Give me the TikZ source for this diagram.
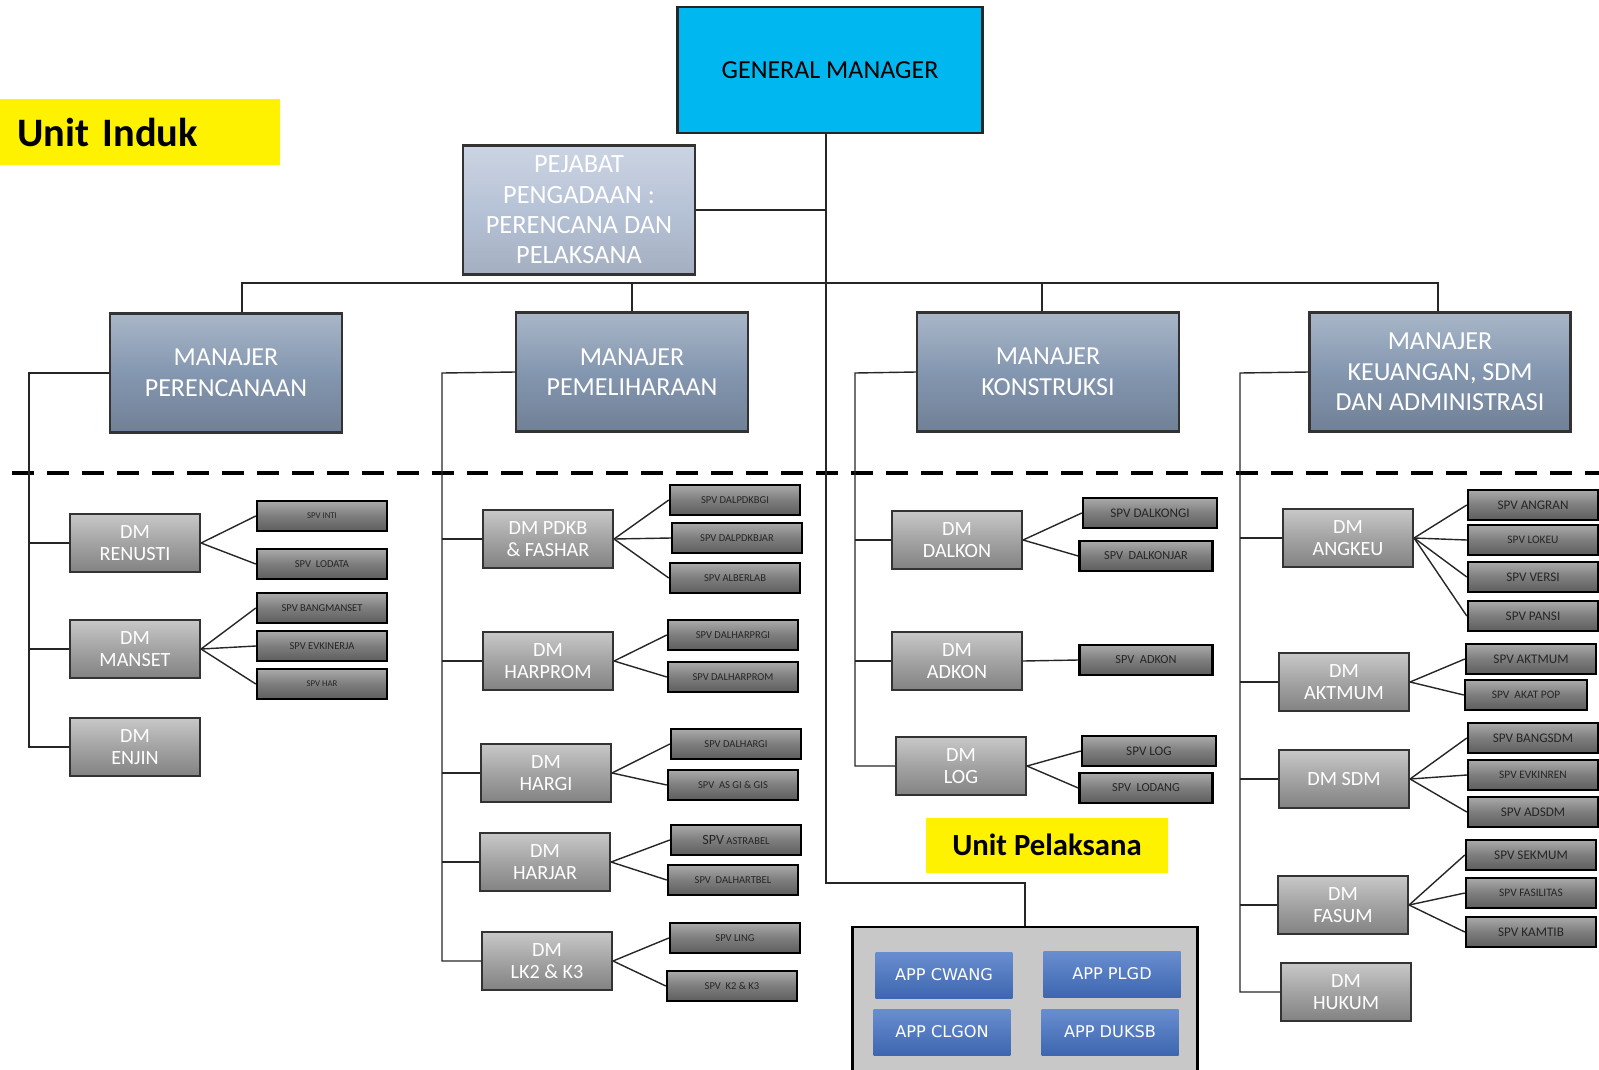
\documentclass[tikz,border=0pt]{standalone}
\usepackage{fontspec}
\setmainfont{Carlito}
\newfontfamily\appfont{DejaVu Sans}
\usepackage{xcolor}
\usetikzlibrary{positioning}
\definecolor{gmcyan}{RGB}{0,183,240}
\definecolor{pejabat}{RGB}{182,194,214}
\definecolor{manajer}{RGB}{132,151,176}
\definecolor{dmgray}{RGB}{163,163,163}
\definecolor{spvgray}{RGB}{125,125,125}
\definecolor{appblue}{RGB}{68,114,196}
\definecolor{appframe}{RGB}{200,200,200}
\tikzset{
	gmbox/.style={draw=black!85, line width=1.6pt, fill=gmcyan, minimum width=6.1cm, minimum height=2.52cm, font=\fontsize{14.8}{17}\selectfont},
	pjbox/.style={draw=black!80, line width=1.3pt, top color=pejabat!70!white, bottom color=pejabat!90!black, middle color=pejabat, text=white, align=center, minimum width=4.64cm, minimum height=2.58cm, inner sep=0pt, font=\fontsize{15}{17.3}\selectfont},
	mgrbox/.style={draw=black!80, line width=1.3pt, top color=manajer!70!white, bottom color=manajer!85!black, middle color=manajer, text=white, align=center, minimum width=4.64cm, minimum height=2.38cm, font=\fontsize{14.8}{17.4}\selectfont},
	dmbox/.style={draw=black!80, line width=1.2pt, top color=dmgray!60!white, bottom color=dmgray!80!black, middle color=dmgray, text=white, align=center, minimum width=2.6cm, minimum height=1.16cm, inner sep=1pt, font=\fontsize{11.5}{12.5}\selectfont},
	spvbox/.style={draw=black, line width=1.4pt, top color=spvgray!65!white, bottom color=spvgray!75!black, middle color=spvgray, text=black!85, minimum width=2.6cm, minimum height=0.6cm, inner sep=1pt, font=\fontsize{6}{7}\selectfont},
	spvbig/.style={spvbox, font=\fontsize{7.5}{8}\selectfont},
	appbox/.style={top color=appblue!80!white, bottom color=appblue!90!black, text=white, minimum width=2.74cm, minimum height=0.92cm, font=\appfont\fontsize{9.2}{10}\selectfont},
	labelbox/.style={fill=yellow, font=\bfseries},
	conn/.style={line width=0.8pt, black!85}
}

\begin{document}
\begin{tikzpicture}[x=0.02cm, y=-0.02cm]
		\useasboundingbox (0,0) rectangle (1599,1069);
		
		% top
		\node[labelbox, minimum height=1.32cm, text width=4.92cm, inner xsep=0.34cm, align=left, font=\bfseries\fontsize{23}{26}\selectfont] (induk) at (140,132) {Unit Induk};
		\node[gmbox] (gm) at (830,70) {GENERAL MANAGER};
		\node[pjbox] (pejabat) at (579,210) {PEJABAT\\PENGADAAN :\\PERENCANA DAN\\PELAKSANA};
		
		% manajer
		\node[mgrbox] (perencanaan) at (226,373) {MANAJER\\PERENCANAAN};
		\node[mgrbox] (pemeliharaan) at (632,372) {MANAJER\\PEMELIHARAAN};
		\node[mgrbox, minimum width=5.24cm] (konstruksi) at (1048,372) {MANAJER\\KONSTRUKSI};
		\node[mgrbox, minimum width=5.22cm] (keuangan) at (1440,372) {MANAJER\\KEUANGAN, SDM\\DAN ADMINISTRASI};
		
		\coordinate (trunk) at (826,133);
		\coordinate (bus) at (826,283);
		\coordinate (c1) at (29,373);
		\coordinate (c2) at (442,373);
		\coordinate (c3) at (855,373);
		\coordinate (c4) at (1240,373);
		
		\draw[line width=2.8pt, dash pattern=on 12.5pt off 7.4pt] (12,473) -- (1599,473);
		
		% bidang perencanaan
		\node[dmbox] (renusti) at (135,543) {DM\\RENUSTI};
		\node[dmbox] (manset) at (135,649) {DM\\MANSET};
		\node[dmbox] (enjin) at (135,747) {DM\\ENJIN};
		\node[spvbox, font=\fontsize{5}{6}\selectfont] (inti) at (322,516) {SPV INTI};
		\node[spvbox] (lodata) at (322,564) {SPV\ \ LODATA};
		\node[spvbox] (bangmanset) at (322,608) {SPV BANGMANSET};
		\node[spvbox] (evkinerja) at (322,646) {SPV EVKINERJA};
		\node[spvbox, font=\fontsize{5}{6}\selectfont] (har) at (322,684) {SPV HAR};
		
		% bidang pemeliharaan
		\node[dmbox] (pdkb) at (548,539) {DM PDKB\\\& FASHAR};
		\node[dmbox] (harprom) at (548,661) {DM\\HARPROM};
		\node[dmbox] (hargi) at (546,773) {DM\\HARGI};
		\node[dmbox] (harjar) at (545,862) {DM\\HARJAR};
		\node[dmbox] (lkk) at (547,961) {DM\\LK2 \& K3};
		\node[spvbox] (dalpdkbgi) at (735,500) {SPV DALPDKBGI};
		\node[spvbox] (dalpdkbjar) at (737,538) {SPV DALPDKBJAR};
		\node[spvbox] (alberlab) at (735,578) {SPV ALBERLAB};
		\node[spvbox] (dalharprgi) at (733,635) {SPV DALHARPRGI};
		\node[spvbox] (dalharprom) at (733,677) {SPV DALHARPROM};
		\node[spvbox] (dalhargi) at (736,744) {SPV DALHARGI};
		\node[spvbox] (asgi) at (733,785) {SPV\ \ AS GI \& GIS};
		\node[spvbox] (astrabel) at (736,840) {{\fontsize{8}{9}\selectfont SPV} ASTRABEL};
		\node[spvbox] (dalhartbel) at (733,880) {SPV\ \ DALHARTBEL};
		\node[spvbox] (ling) at (735,938) {SPV LING};
		\node[spvbox] (kk) at (732,986) {SPV\ \ K2 \& K3};
		
		% bidang konstruksi
		\node[dmbox] (dalkon) at (957,540) {DM\\DALKON};
		\node[dmbox] (adkon) at (957,661) {DM\\ADKON};
		\node[dmbox] (log) at (961,766) {DM\\LOG};
		\node[spvbig, minimum width=2.68cm] (dalkongi) at (1150,513) {SPV DALKONGI};
		\node[spvbox, minimum width=2.66cm, font=\fontsize{7}{8}\selectfont] (dalkonjar) at (1146,556) {SPV\ \ DALKONJAR};
		\node[spvbox, minimum width=2.66cm, font=\fontsize{7}{8}\selectfont] (spvadkon) at (1146,660) {SPV\ \ ADKON};
		\node[spvbig, minimum width=2.68cm] (spvlog) at (1149,751) {SPV LOG};
		\node[spvbox, minimum width=2.66cm, font=\fontsize{7}{8}\selectfont] (lodang) at (1146,788) {SPV\ \ LODANG};
		
		% bidang keuangan, sdm dan administrasi
		\node[dmbox] (angkeu) at (1348,538) {DM\\ANGKEU};
		\node[dmbox] (aktmum) at (1344,682) {DM\\AKTMUM};
		\node[dmbox] (sdm) at (1344,779) {DM SDM};
		\node[dmbox] (fasum) at (1343,905) {DM\\FASUM};
		\node[dmbox] (hukum) at (1346,992) {DM\\HUKUM};
		\node[spvbig] (angran) at (1533,505) {SPV ANGRAN};
		\node[spvbox, font=\fontsize{6.5}{7}\selectfont] (lokeu) at (1533,540) {SPV LOKEU};
		\node[spvbig] (versi) at (1533,577) {SPV VERSI};
		\node[spvbig] (pansi) at (1533,616) {SPV PANSI};
		\node[spvbig] (spvaktmum) at (1531,659) {SPV AKTMUM};
		\node[spvbox, minimum width=2.44cm, font=\fontsize{6.5}{7}\selectfont] (akatpop) at (1526,695) {SPV\ \ AKAT POP};
		\node[spvbig] (bangsdm) at (1533,738) {SPV BANGSDM};
		\node[spvbox, font=\fontsize{6.5}{7}\selectfont] (evkinren) at (1533,775) {SPV EVKINREN};
		\node[spvbig] (adsdm) at (1533,812) {SPV ADSDM};
		\node[spvbig] (sekmum) at (1531,855) {SPV SEKMUM};
		\node[spvbox, font=\fontsize{6.5}{7}\selectfont] (fasilitas) at (1531,893) {SPV FASILITAS};
		\node[spvbig] (kamtib) at (1531,932) {SPV KAMTIB};
		
		% unit pelaksana
		\node[labelbox, minimum width=4.84cm, minimum height=1.1cm, font=\bfseries\fontsize{17.5}{20}\selectfont] (pelaksana) at (1047,845) {Unit Pelaksana};
		\node[draw=black, line width=1.5pt, fill=appframe, minimum width=6.9cm, minimum height=2.92cm] (app) at (1025,1000) {};
		\node[appbox] (cwang) at (944,975) {APP CWANG};
		\node[appbox] (plgd) at (1112,974) {APP PLGD};
		\node[appbox] (clgon) at (942,1032) {APP CLGON};
		\node[appbox] (duksb) at (1110,1032) {APP DUKSB};
		
		% garis
		\draw[conn] (trunk) |- (app.north |- 0,883) -- (app.north);
		\draw[conn] (pejabat.east) -- (pejabat.east -| trunk);
		\draw[conn] (perencanaan.north -| 242,0) -- (242,283) -- (1438,283) -- (keuangan.north -| 1438,0);
		\draw[conn] (pemeliharaan.north) -- (pemeliharaan.north |- bus);
		\draw[conn] (konstruksi.north -| 1042,0) -- (1042,283);
		
		\draw[conn] (perencanaan.west) -- (c1) |- (enjin.west);
		\draw[conn] (renusti.west -| c1) -- (renusti.west);
		\draw[conn] (manset.west -| c1) -- (manset.west);
		\draw[conn] (pemeliharaan.west) -- (c2) |- (lkk.west);
		\draw[conn] (pdkb.west -| c2) -- (pdkb.west);
		\draw[conn] (harprom.west -| c2) -- (harprom.west);
		\draw[conn] (hargi.west -| c2) -- (hargi.west);
		\draw[conn] (harjar.west -| c2) -- (harjar.west);
		\draw[conn] (konstruksi.west) -- (c3) |- (log.west);
		\draw[conn] (dalkon.west -| c3) -- (dalkon.west);
		\draw[conn] (adkon.west -| c3) -- (adkon.west);
		\draw[conn] (keuangan.west) -- (c4) |- (hukum.west);
		\draw[conn] (angkeu.west -| c4) -- (angkeu.west);
		\draw[conn] (aktmum.west -| c4) -- (aktmum.west);
		\draw[conn] (sdm.west -| c4) -- (sdm.west);
		\draw[conn] (fasum.west -| c4) -- (fasum.west);
		
		\draw[conn] (renusti.east) -- (inti.west);
		\draw[conn] (renusti.east) -- (lodata.west);
		\draw[conn] (manset.east) -- (bangmanset.west);
		\draw[conn] (manset.east) -- (evkinerja.west);
		\draw[conn] (manset.east) -- (har.west);
		\draw[conn] (pdkb.east) -- (dalpdkbgi.west);
		\draw[conn] (pdkb.east) -- (dalpdkbjar.west);
		\draw[conn] (pdkb.east) -- (alberlab.west);
		\draw[conn] (harprom.east) -- (dalharprgi.west);
		\draw[conn] (harprom.east) -- (dalharprom.west);
		\draw[conn] (hargi.east) -- (dalhargi.west);
		\draw[conn] (hargi.east) -- (asgi.west);
		\draw[conn] (harjar.east) -- (astrabel.west);
		\draw[conn] (harjar.east) -- (dalhartbel.west);
		\draw[conn] (lkk.east) -- (ling.west);
		\draw[conn] (lkk.east) -- (kk.west);
		\draw[conn] (dalkon.east) -- (dalkongi.west);
		\draw[conn] (dalkon.east) -- (dalkonjar.west);
		\draw[conn] (adkon.east) -- (spvadkon.west);
		\draw[conn] (log.east) -- (spvlog.west);
		\draw[conn] (log.east) -- (lodang.west);
		\draw[conn] (angkeu.east) -- (angran.west);
		\draw[conn] (angkeu.east) -- (lokeu.west);
		\draw[conn] (angkeu.east) -- (versi.west);
		\draw[conn] (angkeu.east) -- (pansi.west);
		\draw[conn] (aktmum.east) -- (spvaktmum.west);
		\draw[conn] (aktmum.east) -- (akatpop.west);
		\draw[conn] (sdm.east) -- (bangsdm.west);
		\draw[conn] (sdm.east) -- (evkinren.west);
		\draw[conn] (sdm.east) -- (adsdm.west);
		\draw[conn] (fasum.east) -- (sekmum.west);
		\draw[conn] (fasum.east) -- (fasilitas.west);
		\draw[conn] (fasum.east) -- (kamtib.west);
\end{tikzpicture}
\end{document}
